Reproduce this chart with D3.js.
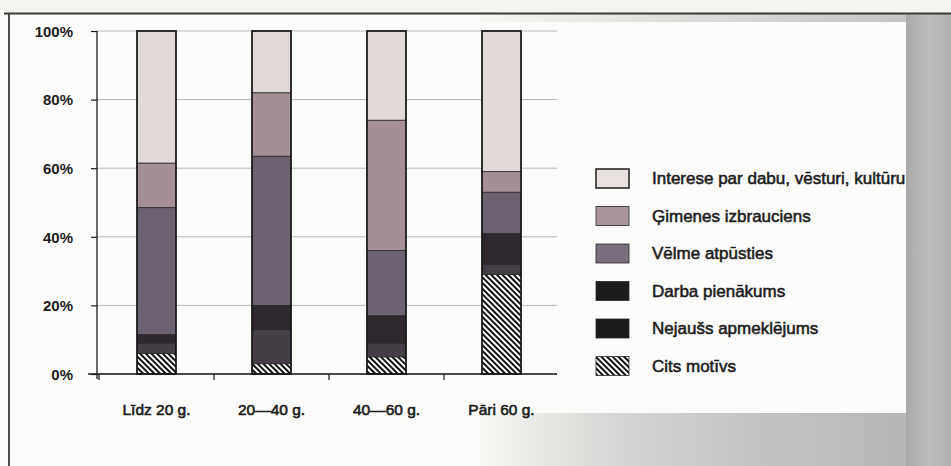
<!DOCTYPE html>
<html>
<head>
<meta charset="utf-8">
<script src="https://cdn.jsdelivr.net/npm/d3@7"></script>
<style>
  html, body { margin: 0; padding: 0; background: #f7f7f4; }
  svg { display: block; }
  text { font-family: "Liberation Sans", Arial, sans-serif; fill: #1c1c1c; }
</style>
</head>
<body>
<svg id="chart" width="951" height="466"></svg>
<script>
// ---------- data ----------
const categories = ["Līdz 20 g.", "20—40 g.", "40—60 g.", "Pāri 60 g."];
const seriesNames = [
  "Cits motīvs",
  "Nejaušs apmeklējums",
  "Darba pienākums",
  "Vēlme atpūsties",
  "Ģimenes izbrauciens",
  "Interese par dabu, vēsturi, kultūru"
];
// values per category, in % (bottom to top order of seriesNames)
const citsMotivs      = [6, 3, 5, 29];
const nejaussApmekl   = [3, 10, 4, 3];
const darbaPienakums  = [2.5, 7, 8, 9];
const velmeAtpusties  = [37, 43.5, 19, 12];
const gimenesIzbr     = [13, 18.5, 38, 6];
const intereseDaba    = [38.5, 18, 26, 41];
const yTicks = [0, 20, 40, 60, 80, 100];
const legendOrder = [5, 4, 3, 2, 1, 0]; // top to bottom in legend

const seriesValues = [citsMotivs, nejaussApmekl, darbaPienakums, velmeAtpusties, gimenesIzbr, intereseDaba];
const colors = ["url(#hatch)", "#463e47", "#2f292f", "#6c6171", "#a38f95", "#e1d9d7"];
const legendColors = ["url(#hatch)", "#1c1a1c", "#1e1b1e", "#7a6f7e", "#a8959a", "#e8e1e0"];

const svg = d3.select("#chart");
const defs = svg.append("defs");

// hatch pattern
const pat = defs.append("pattern")
  .attr("id", "hatch").attr("patternUnits", "userSpaceOnUse")
  .attr("width", 4).attr("height", 4)
  .attr("patternTransform", "rotate(-45)");
pat.append("rect").attr("width", 4).attr("height", 4).attr("fill", "#ffffff");
pat.append("line").attr("x1", 1).attr("y1", 0).attr("x2", 1).attr("y2", 4)
  .attr("stroke", "#111").attr("stroke-width", 2);

// background gradients (scan look)
const gBottom = defs.append("linearGradient").attr("id", "gBottom")
  .attr("x1", "0").attr("x2", "1").attr("y1", "0").attr("y2", "0");
gBottom.append("stop").attr("offset", "0").attr("stop-color", "#f7f7f4");
gBottom.append("stop").attr("offset", "0.3").attr("stop-color", "#d4d4d2");
gBottom.append("stop").attr("offset", "0.6").attr("stop-color", "#c3c3c1");
gBottom.append("stop").attr("offset", "1").attr("stop-color", "#b3b3b1");
const gRight = defs.append("linearGradient").attr("id", "gRight")
  .attr("x1", "0").attr("x2", "1").attr("y1", "0").attr("y2", "0");
gRight.append("stop").attr("offset", "0").attr("stop-color", "#a9a9a7");
gRight.append("stop").attr("offset", "0.5").attr("stop-color", "#bdbdbb");
gRight.append("stop").attr("offset", "1").attr("stop-color", "#b0b0ae");
const gTop = defs.append("linearGradient").attr("id", "gTop")
  .attr("x1", "0").attr("x2", "1").attr("y1", "0").attr("y2", "0");
gTop.append("stop").attr("offset", "0").attr("stop-color", "#f7f7f4");
gTop.append("stop").attr("offset", "0.5").attr("stop-color", "#d9d9d7");
gTop.append("stop").attr("offset", "1").attr("stop-color", "#bfbfbd");

// page background
svg.append("rect").attr("x", 0).attr("y", 0).attr("width", 951).attr("height", 466).attr("fill", "#fbfbf9");
svg.append("rect").attr("x", 0).attr("y", 0).attr("width", 951).attr("height", 13).attr("fill", "#f4f4f1");
svg.append("rect").attr("x", 480).attr("y", 14).attr("width", 471).attr("height", 8).attr("fill", "url(#gTop)");
svg.append("rect").attr("x", 480).attr("y", 413).attr("width", 471).attr("height", 53).attr("fill", "url(#gBottom)");

// ---------- scales ----------
const x = d3.scaleBand().domain(categories).range([99, 559]).padding(0);
const barW = 39;
const y = d3.scaleLinear().domain([0, 100]).range([374, 31]);

// stack
const table = categories.map((c, i) => {
  const o = { cat: c };
  seriesNames.forEach((s, k) => o[s] = seriesValues[k][i]);
  return o;
});
const stack = d3.stack().keys(seriesNames)(table);

// gridlines
svg.append("g").selectAll("line").data(yTicks).join("line")
  .attr("x1", 97).attr("x2", 557)
  .attr("y1", d => y(d)).attr("y2", d => y(d))
  .attr("stroke", "#b8b8b8").attr("stroke-width", 1);

// bars
const gBars = svg.append("g");
stack.forEach((layer, k) => {
  gBars.append("g").selectAll("rect").data(layer).join("rect")
    .attr("x", d => x(d.data.cat) + (x.bandwidth() - barW) / 2)
    .attr("width", barW)
    .attr("y", d => y(d[1]))
    .attr("height", d => y(d[0]) - y(d[1]))
    .attr("fill", colors[k])
    .attr("stroke", "#2a2a2a").attr("stroke-width", 0.8);
});
// bar outlines
gBars.append("g").selectAll("rect").data(categories).join("rect")
  .attr("x", c => x(c) + (x.bandwidth() - barW) / 2)
  .attr("width", barW)
  .attr("y", y(100)).attr("height", y(0) - y(100))
  .attr("fill", "none").attr("stroke", "#161616").attr("stroke-width", 1.6);

// y axis
const yAxis = svg.append("g").attr("transform", "translate(97,0)")
  .call(d3.axisLeft(y).tickValues(yTicks).tickSize(6).tickPadding(18).tickFormat(d => d + "%"));
yAxis.select(".domain").attr("stroke", "#1a1a1a").attr("stroke-width", 1.3)
  .attr("d", `M0,${y(100)}V${y(0) + 5}`);
yAxis.selectAll(".tick line").attr("stroke", "#1a1a1a").attr("stroke-width", 1.2).attr("x2", -6);
yAxis.selectAll(".tick text")
  .style("font-size", "15px").style("font-weight", "bold").attr("fill", "#1c1c1c")
  .attr("dy", "0.35em");

// x axis
const xAxis = svg.append("g").attr("transform", `translate(0,${y(0)})`)
  .call(d3.axisBottom(x).tickSize(0).tickPadding(30));
xAxis.select(".domain").remove();
svg.append("line").attr("x1", 88).attr("x2", 557).attr("y1", y(0)).attr("y2", y(0))
  .attr("stroke", "#1a1a1a").attr("stroke-width", 1.5);
svg.append("g").selectAll("line").data(categories).join("line")
  .attr("x1", c => x(c)).attr("x2", c => x(c))
  .attr("y1", y(0)).attr("y2", y(0) + 6)
  .attr("stroke", "#1a1a1a").attr("stroke-width", 1.2);
xAxis.selectAll(".tick text")
  .style("font-size", "15.5px").attr("fill", "#1c1c1c")
  .attr("stroke", "#1c1c1c").attr("stroke-width", 0.6)
  .attr("dy", "0.71em");

// legend
const legend = svg.append("g");
const rowY = d3.scaleLinear().domain([0, 5]).range([178.5, 366]);
legendOrder.forEach((k, i) => {
  const cy = rowY(i);
  legend.append("rect")
    .attr("x", 596).attr("y", cy - 9.5).attr("width", 33).attr("height", 19)
    .attr("fill", legendColors[k])
    .attr("stroke", "#2a2a2a").attr("stroke-width", k === 5 ? 1.6 : 0.8);
  legend.append("text")
    .attr("x", 652).attr("y", cy).attr("dy", "0.35em")
    .style("font-size", "17px")
    .attr("stroke", "#1c1c1c").attr("stroke-width", 0.55)
    .text(seriesNames[k]);
});

// scan frame lines and right gray strip
svg.append("rect").attr("x", 906).attr("y", 14).attr("width", 45).attr("height", 452).attr("fill", "url(#gRight)");
svg.append("line").attr("x1", 4).attr("x2", 951).attr("y1", 13.5).attr("y2", 13.5)
  .attr("stroke", "#3a3a3a").attr("stroke-width", 2);
svg.append("line").attr("x1", 9).attr("x2", 9).attr("y1", 13).attr("y2", 466)
  .attr("stroke", "#3a3a3a").attr("stroke-width", 1.8);
</script>
</body>
</html>
